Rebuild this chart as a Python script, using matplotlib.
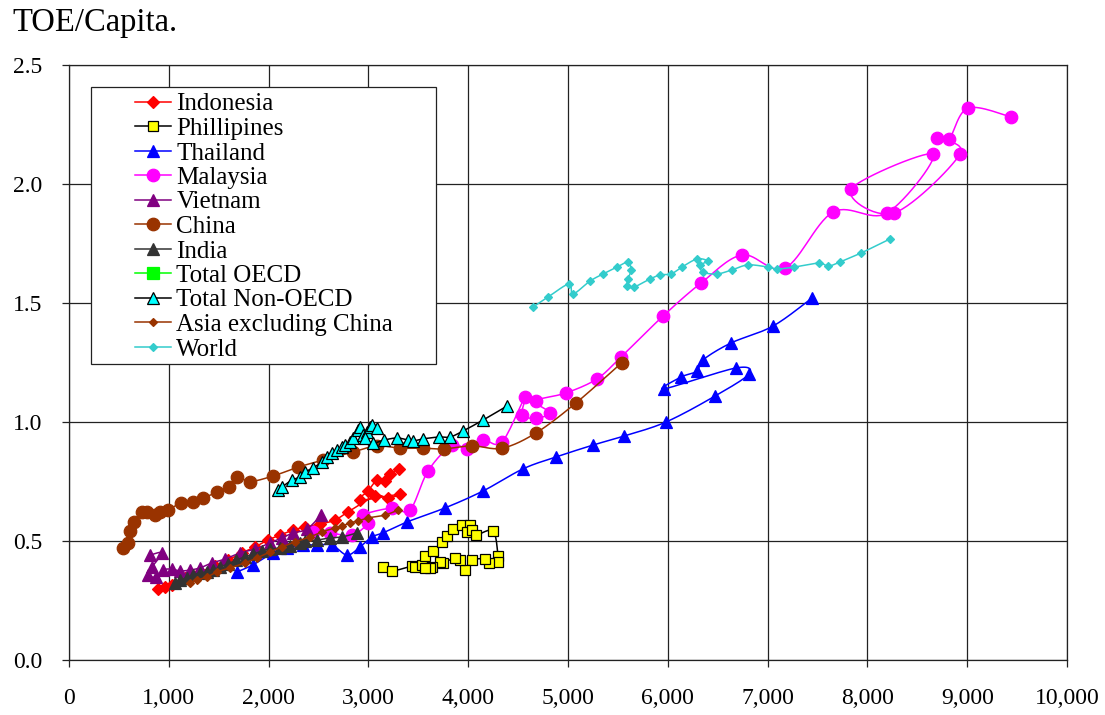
import matplotlib
matplotlib.use("Agg")
import matplotlib.pyplot as plt
import numpy as np
from matplotlib.lines import Line2D
from matplotlib.patches import Rectangle
from matplotlib.ticker import FuncFormatter

plt.rcParams['font.family'] = ['Liberation Serif', 'DejaVu Serif']

# GDP per capita (x) against energy use in TOE per capita (y)
indonesia_x = [892, 962, 1032, 1162, 1313, 1463, 1593, 1733, 1864, 1994, 2114, 2245, 2365,
               2515, 2665, 2796, 3066, 3197, 3317, 2916, 2996, 3086, 3166, 3217, 3307]
indonesia_y = [0.298, 0.307, 0.315, 0.345, 0.37, 0.395, 0.42, 0.45, 0.475, 0.504, 0.525, 0.546, 0.559,
               0.571, 0.588, 0.622, 0.689, 0.681, 0.697, 0.672, 0.71, 0.756, 0.752, 0.782, 0.803]

philippines_x = [3146, 3237, 3437, 3467, 3537, 3567, 3647, 3738, 3788, 3848, 3938, 4018, 3988, 4038, 4078, 4249,
                 4299, 4299, 4208, 4168, 4038, 3968, 3918, 3868, 3748, 3718, 3637, 3617, 3567]
philippines_y = [0.391, 0.374, 0.395, 0.391, 0.399, 0.437, 0.458, 0.496, 0.521, 0.55, 0.567, 0.567, 0.538, 0.546, 0.525, 0.542,
                 0.437, 0.412, 0.408, 0.424, 0.42, 0.378, 0.42, 0.429, 0.408, 0.412, 0.391, 0.387, 0.387]

thailand_x = [1683, 1844, 2044, 2184, 2345, 2485, 2635, 2786, 2916, 3036, 3146, 3387, 3768, 4148, 4549,
              4880, 5250, 5561, 5982, 6473, 6814, 6683, 5962, 6132, 6293, 6353, 6633, 7054, 7445]
thailand_y = [0.37, 0.40, 0.45, 0.47, 0.483, 0.483, 0.483, 0.441, 0.475, 0.517, 0.534, 0.58, 0.639, 0.71, 0.803,
              0.853, 0.903, 0.941, 1.0, 1.109, 1.202, 1.227, 1.139, 1.189, 1.214, 1.261, 1.332, 1.403, 1.521]

malaysia_x = [2445, 2615, 2836, 2996, 2946, 3237, 3417, 3597, 3838, 3988, 4148, 4339, 4569, 4539, 4679,
              4820, 4679, 4980, 5290, 5531, 5952, 6333, 6744, 7175, 7656, 8197, 8657, 7836, 8267,
              8928, 8697, 8818, 9008, 9439]
malaysia_y = [0.538, 0.534, 0.525, 0.576, 0.609, 0.639, 0.63, 0.794, 0.903, 0.887, 0.924, 0.916, 1.105, 1.029, 1.017,
              1.038, 1.088, 1.122, 1.181, 1.273, 1.445, 1.584, 1.702, 1.647, 1.882, 1.878, 2.126, 1.979, 1.878,
              2.126, 2.193, 2.189, 2.319, 2.282]

vietnam_x = [812, 932, 832, 792, 872, 942, 1032, 1112, 1212, 1313, 1433, 1563, 1713, 1864, 2014,
             2134, 2245, 2385, 2525]
vietnam_y = [0.441, 0.45, 0.391, 0.357, 0.349, 0.378, 0.382, 0.374, 0.378, 0.387, 0.408, 0.424, 0.45, 0.466, 0.492,
             0.513, 0.534, 0.55, 0.609]

china_x = [541, 591, 611, 651, 731, 781, 862, 912, 992, 1122, 1242, 1343, 1483, 1603, 1683, 1814, 2044,
           2294, 2545, 2846, 3086, 3317, 3547, 3757, 4038, 4339, 4679, 5080, 5541]
china_y = [0.47, 0.49, 0.54, 0.58, 0.62, 0.62, 0.61, 0.62, 0.63, 0.66, 0.665, 0.68, 0.705, 0.727, 0.77, 0.75, 0.773,
           0.81, 0.84, 0.874, 0.90, 0.89, 0.89, 0.887, 0.90, 0.89, 0.954, 1.08, 1.25]

india_x = [1062, 1112, 1182, 1242, 1313, 1383, 1443, 1513, 1593, 1673, 1763, 1844, 1934, 2014, 2114,
           2214, 2315, 2365, 2485, 2615, 2735, 2886]
india_y = [0.324, 0.336, 0.345, 0.357, 0.366, 0.37, 0.378, 0.391, 0.403, 0.42, 0.433, 0.445, 0.458, 0.466, 0.471,
           0.479, 0.492, 0.5, 0.504, 0.513, 0.517, 0.534]

# OECD averages sit beyond the plotted GDP range, so only the legend entry shows
oecd_x = []
oecd_y = []

non_oecd_x = [2094, 2134, 2234, 2315, 2365, 2445, 2535, 2585, 2635, 2685, 2735, 2766, 2816, 2846, 2896, 2916,
              2946, 2986, 3016, 3036, 3086, 2966, 3046, 3156, 3287, 3397, 3447, 3547, 3707, 3818, 3948, 4148, 4389]
non_oecd_y = [0.714, 0.727, 0.756, 0.769, 0.79, 0.807, 0.832, 0.853, 0.87, 0.882, 0.895, 0.903, 0.916, 0.933, 0.966, 0.979,
              0.945, 0.958, 0.979, 0.987, 0.975, 0.933, 0.912, 0.924, 0.933, 0.924, 0.92, 0.929, 0.937, 0.937, 0.962, 1.008, 1.067]

asia_ex_china_x = [1212, 1282, 1383, 1483, 1613, 1763, 1884, 2014, 2134, 2265, 2415, 2535, 2665, 2735, 2816,
                   2896, 2996, 3166, 3297]
asia_ex_china_y = [0.324, 0.336, 0.349, 0.37, 0.387, 0.408, 0.429, 0.454, 0.475, 0.496, 0.517, 0.538, 0.555, 0.563, 0.576,
                   0.584, 0.597, 0.609, 0.63]

world_x = [4649, 4800, 5010, 5050, 5220, 5351, 5491, 5601, 5631, 5601, 5591, 5661, 5822, 5922, 6032, 6142,
           6293, 6403, 6323, 6353, 6493, 6643, 6804, 7004, 7094, 7265, 7515, 7605, 7725, 7936, 8226]
world_y = [1.483, 1.525, 1.58, 1.538, 1.592, 1.622, 1.651, 1.672, 1.639, 1.601, 1.571, 1.567, 1.601, 1.618, 1.622, 1.651,
           1.685, 1.676, 1.66, 1.63, 1.622, 1.639, 1.66, 1.651, 1.643, 1.651, 1.668, 1.655, 1.672, 1.71, 1.769]

x_ticks = [0, 1000, 2000, 3000, 4000, 5000, 6000, 7000, 8000, 9000, 10000]
y_ticks = [0.0, 0.5, 1.0, 1.5, 2.0, 2.5]

series = [
    # label, x, y, line colour, marker, face, edge, size
    ("Indonesia", indonesia_x, indonesia_y, "#FF0000", "D", "#FF0000", "#FF0000", 6.0),
    ("Phillipines", philippines_x, philippines_y, "#000000", "s", "#FFFF00", "#000000", 7.8),
    ("Thailand", thailand_x, thailand_y, "#0000FF", "^", "#0000FF", "#0000FF", 9.0),
    ("Malaysia", malaysia_x, malaysia_y, "#FF00FF", "o", "#FF00FF", "#FF00FF", 9.0),
    ("Vietnam", vietnam_x, vietnam_y, "#800080", "^", "#800080", "#800080", 9.0),
    ("China", china_x, china_y, "#993300", "o", "#993300", "#993300", 9.0),
    ("India", india_x, india_y, "#333333", "^", "#333333", "#333333", 9.0),
    ("Total OECD", oecd_x, oecd_y, "#00FF00", "s", "#00FF00", "#00FF00", 8.0),
    ("Total Non-OECD", non_oecd_x, non_oecd_y, "#000000", "^", "#00FFFF", "#000000", 8.5),
    ("Asia excluding China", asia_ex_china_x, asia_ex_china_y, "#993300", "D", "#993300", "#993300", 4.5),
    ("World", world_x, world_y, "#33CCCC", "D", "#33CCCC", "#33CCCC", 4.5),
]


def smooth(xs, ys, steps=16):
    """Cubic Bezier smoothing through every point (Catmull-Rom tangents)."""
    p = np.column_stack([xs, ys]).astype(float)
    n = len(p)
    if n < 3:
        return p[:, 0], p[:, 1]
    t = np.linspace(0, 1, steps)[:, None]
    out = []
    for i in range(n - 1):
        p0 = p[max(i - 1, 0)]
        p1 = p[i]
        p2 = p[i + 1]
        p3 = p[min(i + 2, n - 1)]
        c1 = p1 + (p2 - p0) / 6.0
        c2 = p2 - (p3 - p1) / 6.0
        seg = ((1 - t) ** 3) * p1 + 3 * ((1 - t) ** 2) * t * c1 + 3 * (1 - t) * t ** 2 * c2 + t ** 3 * p2
        out.append(seg if i == 0 else seg[1:])
    out = np.vstack(out)
    return out[:, 0], out[:, 1]


fig = plt.figure(figsize=(11.05, 7.15), dpi=100)
ax = fig.add_axes([69 / 1105, 1 - 660 / 715, 998 / 1105, 595 / 715])

handles = []
for k, (label, xs, ys, lc, mk, fc, ec, ms) in enumerate(series):
    z = 3 + k * 0.1
    if len(xs):
        sx, sy = smooth(xs, ys)
        ax.plot(sx, sy, color=lc, lw=1.1, zorder=z)
        ax.plot(xs, ys, linestyle="none", marker=mk, markersize=ms,
                markerfacecolor=fc, markeredgecolor=ec, markeredgewidth=0.9, zorder=z + 0.05)
    handles.append(Line2D([0], [0], color=lc, lw=1.1, marker=mk, markersize=ms,
                          markerfacecolor=fc, markeredgecolor=ec, markeredgewidth=0.9, label=label))

ax.set_xlim(0, 10000)
ax.set_ylim(0, 2.5)
ax.set_xticks(x_ticks)
ax.set_yticks(y_ticks)
ax.xaxis.set_major_formatter(FuncFormatter(lambda v, _: f"{v:,.0f}"))
ax.yaxis.set_major_formatter(FuncFormatter(lambda v, _: f"{v:.1f}"))
ax.grid(True, color="#222222", lw=0.9, zorder=1)
ax.set_axisbelow(True)
for s in ax.spines.values():
    s.set_color("#222222")
    s.set_linewidth(0.9)
ax.tick_params(axis="both", direction="out", length=5, width=0.9, labelsize=17, color="#222222")
ax.tick_params(axis="x", pad=15.5)
ax.tick_params(axis="y", pad=14)

# legend box
ax.add_patch(Rectangle((22 / 998, (660 - 364) / 595), (436 - 91) / 998, (364 - 87) / 595,
                       transform=ax.transAxes, facecolor="white", edgecolor="#222222",
                       lw=0.9, zorder=20))
leg = ax.legend(handles=handles, loc="upper left",
                bbox_to_anchor=((135 - 69) / 998, (660 - 93) / 595),
                frameon=False, fontsize=18, borderpad=0, borderaxespad=0,
                handlelength=1.45, handletextpad=0.2, labelspacing=0.08)
leg.set_zorder(21)

fig.text(12 / 1105, 1 - 23 / 715, "TOE/Capita.", fontsize=23.5, ha="left", va="center")

fig.savefig("out.png", dpi=100)
